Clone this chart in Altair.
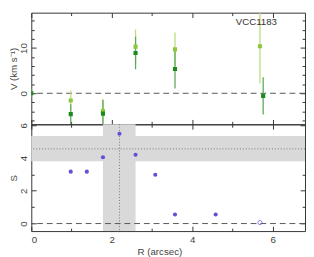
import altair as alt
import pandas as pd

# ---------------- data ----------------
# velocity panel (R in arcsec, V in km/s, symmetric error)
r_dark = [0.0, 0.98, 1.78, 2.59, 3.57, 5.76]
v_dark = [0.0, -4.6, -4.5, 8.9, 5.35, -0.57]
e_dark = [1.1, 2.2, 3.0, 3.6, 4.3, 4.1]
r_light = [0.98, 1.78, 2.59, 3.57, 5.68]
v_light = [-1.6, -3.9, 10.3, 9.7, 10.4]
e_light = [2.2, 2.7, 3.8, 3.7, 8.2]

# S panel
r_s = [0.98, 1.38, 1.78, 2.19, 2.59, 3.08, 3.57, 4.58]
s_val = [3.17, 3.17, 4.05, 5.48, 4.2, 2.98, 0.55, 0.55]
r_s_open = [5.68]
s_open = [0.06]

s_band = [3.8, 5.35]
s_best = [4.56]
r_band = [1.78, 2.59]
r_best = [2.19]
zero = [0.0]

label_text = ["VCC1183"]
label_r = [5.59]
label_v = [15.8]

x_ticks_all = [0, 1, 2, 3, 4, 5, 6]
x_labels = [0, 2, 4, 6]
v_ticks_all = [-6, -4, -2, 0, 2, 4, 6, 8, 10, 12, 14, 16]
v_labels = [0, 10]
s_ticks_all = [0, 1, 2, 3, 4, 5, 6]
s_labels = [0, 2, 4, 6]

# ---------------- layout ----------------
W, H1, H2 = 282, 115, 110
FONT = "Liberation Sans"
TXT = "#444444"
LIGHT, LIGHT_E = "#8cc83c", "#b9dd7a"
DARK, DARK_E = "#1e8a1e", "#5aa85a"
BLUE = "#5e50d8"

xs = alt.Scale(domain=[0, 6.8], nice=False, zero=False)
ys1 = alt.Scale(domain=[-6.85, 17.8], nice=False, zero=False)
ys2 = alt.Scale(domain=[-0.46, 6.06], nice=False, zero=False)

dark = pd.DataFrame({"r": r_dark, "v": v_dark, "e": e_dark})
light = pd.DataFrame({"r": r_light, "v": v_light, "e": e_light})
sdf = pd.DataFrame({"r": r_s, "s": s_val})
sopen = pd.DataFrame({"r": r_s_open, "s": s_open})
zdf = pd.DataFrame({"z": zero})
lab = pd.DataFrame({"t": label_text, "r": label_r, "v": label_v})
sband = pd.DataFrame({"lo": [s_band[0]], "hi": [s_band[1]], "best": s_best})
rband = pd.DataFrame({"lo": [r_band[0]], "hi": [r_band[1]], "best": r_best})


def tick_axis(orient, offset, values, test):
    return alt.Axis(orient=orient, offset=offset, values=values, labels=False,
                    domain=False, grid=False, title=None, tickColor="#333333",
                    tickWidth=1,
                    tickSize={"condition": {"test": test, "value": 5}, "value": 3})


def tick_layers(height, yscale, yvals, ytest, yfield_df):
    a = alt.Chart(yfield_df).mark_point(opacity=0).encode(
        x=alt.X("r:Q", scale=xs, axis=tick_axis("top", -height, x_ticks_all, "datum.value % 2 === 0")),
        y=alt.Y("y:Q", scale=yscale, axis=tick_axis("right", -W, yvals, ytest)),
    )
    b = alt.Chart(yfield_df).mark_point(opacity=0).encode(
        x=alt.X("r:Q", scale=xs, axis=tick_axis("bottom", -height, x_ticks_all, "datum.value % 2 === 0")),
        y=alt.Y("y:Q", scale=yscale, axis=tick_axis("left", -W, yvals, ytest)),
    )
    return [a, b]


# ---------------- top panel ----------------
def err_layers(df, col, ecol):
    base = alt.Chart(df).transform_calculate(lo="datum.v - datum.e", hi="datum.v + datum.e")
    bars = base.mark_rule(color=ecol, strokeWidth=1.3, clip=True).encode(
        x=alt.X("r:Q", scale=xs, axis=None),
        y=alt.Y("lo:Q", scale=ys1, axis=None), y2="hi:Q")
    pts = base.mark_square(color=col, size=18, opacity=1, clip=True).encode(
        x=alt.X("r:Q", scale=xs, axis=None),
        y=alt.Y("v:Q", scale=ys1, axis=None))
    return bars, pts

zline1 = alt.Chart(zdf).mark_rule(color="#555555", strokeDash=[6, 4], strokeWidth=1).encode(
    y=alt.Y("z:Q", scale=ys1, axis=None))
lb, lp = err_layers(light, LIGHT, LIGHT_E)
db, dp = err_layers(dark, DARK, DARK_E)
txt = alt.Chart(lab).mark_text(font=FONT, fontSize=10, color="#333333").encode(
    x=alt.X("r:Q", scale=xs, axis=None), y=alt.Y("v:Q", scale=ys1, axis=None), text="t:N")

vdf = pd.DataFrame({"r": [0.0, 6.0], "y": [0.0, 10.0]})
vlab = alt.Chart(vdf).mark_point(opacity=0).encode(
    x=alt.X("r:Q", scale=xs, axis=None),
    y=alt.Y("y:Q", scale=ys1, axis=alt.Axis(
        values=v_labels, ticks=False, tickSize=0, domain=False, grid=False,
        labelAngle=-90, labelAlign="center", labelBaseline="bottom", labelPadding=3,
        labelFont=FONT, labelFontSize=10, labelColor=TXT,
        title="V (km s⁻¹)", titleFont=FONT, titleFontSize=10, titleFontWeight="normal",
        titleColor=TXT, titlePadding=0)))

top = alt.layer(zline1, lb, db, lp, dp, txt, vlab,
                *tick_layers(H1, ys1, v_ticks_all, "datum.value % 10 === 0", vdf)
                ).resolve_axis(x="independent", y="independent").properties(width=W, height=H1)

# ---------------- bottom panel ----------------
hband = alt.Chart(sband).mark_rect(color="#d9d9d9").encode(
    y=alt.Y("lo:Q", scale=ys2, axis=None), y2="hi:Q")
vband = alt.Chart(rband).mark_rect(color="#d9d9d9").encode(
    x=alt.X("lo:Q", scale=xs, axis=None), x2="hi:Q")
hbest = alt.Chart(sband).mark_rule(color="#777777", strokeDash=[1, 2], strokeWidth=1).encode(
    y=alt.Y("best:Q", scale=ys2, axis=None))
vbest = alt.Chart(rband).mark_rule(color="#777777", strokeDash=[1, 2], strokeWidth=1).encode(
    x=alt.X("best:Q", scale=xs, axis=None))
zline2 = alt.Chart(zdf).mark_rule(color="#555555", strokeDash=[6, 4], strokeWidth=1).encode(
    y=alt.Y("z:Q", scale=ys2, axis=None))
spts = alt.Chart(sdf).mark_circle(color=BLUE, size=18, opacity=1).encode(
    x=alt.X("r:Q", scale=xs, axis=None), y=alt.Y("s:Q", scale=ys2, axis=None))
sopn = alt.Chart(sopen).mark_point(color=BLUE, size=18, filled=False, strokeWidth=1).encode(
    x=alt.X("r:Q", scale=xs, axis=None), y=alt.Y("s:Q", scale=ys2, axis=None))

sdf2 = pd.DataFrame({"r": [0.0, 6.0], "y": [0.0, 6.0]})
slab = alt.Chart(sdf2).mark_point(opacity=0).encode(
    x=alt.X("r:Q", scale=xs, axis=alt.Axis(
        values=x_labels, ticks=False, tickSize=0, domain=False, grid=False,
        labelPadding=4, labelFont=FONT, labelFontSize=10, labelColor=TXT,
        title="R (arcsec)", titleFont=FONT, titleFontSize=10, titleFontWeight="normal",
        titleColor=TXT, titlePadding=2, titleX=132)),
    y=alt.Y("y:Q", scale=ys2, axis=alt.Axis(
        values=s_labels, ticks=False, tickSize=0, domain=False, grid=False,
        labelAngle=-90, labelAlign="center", labelBaseline="bottom", labelPadding=3,
        labelFont=FONT, labelFontSize=10, labelColor=TXT, labelOverlap=False,
        labelBound=False, labelFlush=False,
        title="S", titleFont=FONT, titleFontSize=10, titleFontWeight="normal",
        titleColor=TXT, titlePadding=0)))

bottom = alt.layer(hband, vband, hbest, vbest, zline2, spts, sopn, slab,
                   *tick_layers(H2, ys2, s_ticks_all, "datum.value % 2 === 0", sdf2)
                   ).resolve_axis(x="independent", y="independent").properties(width=W, height=H2)

chart = alt.vconcat(top, bottom, spacing=0, bounds="flush").properties(
    padding={"left": 0, "top": 0, "right": 0, "bottom": 0},
    background="white",
).configure_view(stroke="#333333", strokeWidth=1)

chart.save("out.html", embed_options={"renderer": "svg", "actions": False})
